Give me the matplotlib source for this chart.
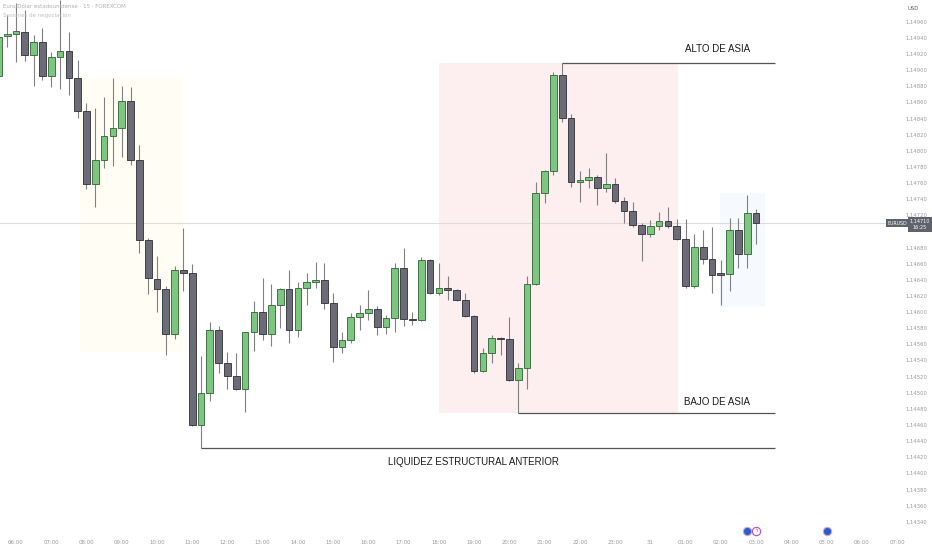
import numpy as np
import matplotlib
matplotlib.use('Agg')
import matplotlib.pyplot as plt
from matplotlib.patches import Rectangle
from matplotlib.transforms import blended_transform_factory

# EUR/USD 15m candles, first one is two bars before 06:00
opens = [1.14892, 1.14942, 1.14945, 1.14947, 1.14918, 1.14935, 1.14892, 1.14916, 1.14923, 1.14890,
         1.14849, 1.14759, 1.14788, 1.14818, 1.14828, 1.14861, 1.14788, 1.14689, 1.14641, 1.14628,
         1.14572, 1.14652, 1.14648, 1.14460, 1.14500, 1.14577, 1.14537, 1.14520, 1.14504, 1.14575,
         1.14600, 1.14572, 1.14608, 1.14628, 1.14577, 1.14630, 1.14637, 1.14639, 1.14611, 1.14557,
         1.14565, 1.14594, 1.14598, 1.14603, 1.14581, 1.14592, 1.14655, 1.14591, 1.14590, 1.14664,
         1.14624, 1.14629, 1.14627, 1.14615, 1.14595, 1.14527, 1.14549, 1.14568, 1.14566, 1.14516,
         1.14531, 1.14634, 1.14748, 1.14775, 1.14894, 1.14840, 1.14761, 1.14764, 1.14767, 1.14754,
         1.14759, 1.14738, 1.14725, 1.14708, 1.14697, 1.14706, 1.14713, 1.14707, 1.14690, 1.14632,
         1.14680, 1.14665, 1.14648, 1.14647, 1.14701, 1.14672, 1.14722]
highs = [1.14946, 1.14968, 1.14983, 1.14974, 1.14943, 1.14952, 1.14922, 1.14987, 1.14947, 1.14912,
         1.14859, 1.14853, 1.14866, 1.14890, 1.14880, 1.14879, 1.14807, 1.14692, 1.14669, 1.14632,
         1.14657, 1.14704, 1.14659, 1.14545, 1.14587, 1.14582, 1.14550, 1.14549, 1.14575, 1.14614,
         1.14642, 1.14634, 1.14629, 1.14652, 1.14637, 1.14648, 1.14662, 1.14660, 1.14623, 1.14575,
         1.14598, 1.14608, 1.14627, 1.14607, 1.14596, 1.14660, 1.14679, 1.14600, 1.14668, 1.14665,
         1.14660, 1.14644, 1.14628, 1.14623, 1.14596, 1.14555, 1.14571, 1.14569, 1.14594, 1.14536,
         1.14644, 1.14761, 1.14776, 1.14897, 1.14909, 1.14845, 1.14775, 1.14779, 1.14770, 1.14797,
         1.14766, 1.14742, 1.14736, 1.14710, 1.14714, 1.14724, 1.14730, 1.14715, 1.14715, 1.14696,
         1.14701, 1.14705, 1.14664, 1.14716, 1.14716, 1.14745, 1.14727]
lows = [1.14887, 1.14928, 1.14910, 1.14911, 1.14880, 1.14888, 1.14879, 1.14876, 1.14869, 1.14840,
        1.14752, 1.14730, 1.14779, 1.14781, 1.14792, 1.14782, 1.14673, 1.14622, 1.14600, 1.14547,
        1.14566, 1.14626, 1.14459, 1.14431, 1.14489, 1.14524, 1.14504, 1.14503, 1.14476, 1.14551,
        1.14565, 1.14558, 1.14580, 1.14562, 1.14569, 1.14608, 1.14629, 1.14603, 1.14538, 1.14549,
        1.14561, 1.14578, 1.14590, 1.14571, 1.14572, 1.14575, 1.14582, 1.14584, 1.14589, 1.14622,
        1.14621, 1.14615, 1.14614, 1.14594, 1.14524, 1.14526, 1.14537, 1.14547, 1.14514, 1.14474,
        1.14504, 1.14633, 1.14735, 1.14770, 1.14835, 1.14755, 1.14736, 1.14754, 1.14732, 1.14749,
        1.14735, 1.14710, 1.14705, 1.14663, 1.14693, 1.14701, 1.14704, 1.14689, 1.14630, 1.14629,
        1.14659, 1.14624, 1.14608, 1.14626, 1.14655, 1.14655, 1.14684]
closes = [1.14941, 1.14944, 1.14948, 1.14918, 1.14935, 1.14892, 1.14916, 1.14923, 1.14890, 1.14849,
          1.14759, 1.14788, 1.14818, 1.14828, 1.14861, 1.14788, 1.14689, 1.14642, 1.14628, 1.14572,
          1.14652, 1.14648, 1.14460, 1.14500, 1.14577, 1.14537, 1.14520, 1.14504, 1.14575, 1.14600,
          1.14572, 1.14608, 1.14628, 1.14577, 1.14630, 1.14637, 1.14639, 1.14611, 1.14557, 1.14565,
          1.14594, 1.14598, 1.14603, 1.14581, 1.14592, 1.14655, 1.14591, 1.14590, 1.14664, 1.14624,
          1.14630, 1.14627, 1.14615, 1.14595, 1.14527, 1.14549, 1.14568, 1.14566, 1.14516, 1.14531,
          1.14634, 1.14748, 1.14775, 1.14894, 1.14840, 1.14761, 1.14764, 1.14767, 1.14754, 1.14759,
          1.14738, 1.14725, 1.14708, 1.14697, 1.14706, 1.14713, 1.14707, 1.14690, 1.14632, 1.14680,
          1.14665, 1.14646, 1.14646, 1.14701, 1.14672, 1.14722, 1.14710]
FIRST_BAR = -2  # bar index relative to 06:00

time_ticks = [0, 4, 8, 12, 16, 20, 24, 28, 32, 36, 40, 44, 48, 52, 56, 60, 64, 68, 72, 76, 80, 84, 88, 92, 96, 100]
time_labels = ['06:00', '07:00', '08:00', '09:00', '10:00', '11:00', '12:00', '13:00', '14:00', '15:00',
               '16:00', '17:00', '18:00', '19:00', '20:00', '21:00', '22:00', '23:00', '31', '01:00',
               '02:00', '03:00', '04:00', '05:00', '06:00', '07:00']
price_ticks = [1.14960, 1.14940, 1.14920, 1.14900, 1.14880, 1.14860, 1.14840, 1.14820, 1.14800, 1.14780,
               1.14760, 1.14740, 1.14720, 1.14680, 1.14660, 1.14640, 1.14620, 1.14600, 1.14580, 1.14560,
               1.14540, 1.14520, 1.14500, 1.14480, 1.14460, 1.14440, 1.14420, 1.14400, 1.14380, 1.14360,
               1.14340]

last_price = 1.14710
asia_start, asia_end = 48, 75.15
asia_high_bar, asia_high = 62, 1.14909
asia_low_bar, asia_low = 57, 1.14474
liq_bar, liq_low = 21, 1.14431
london_box = (7.3, 19.0, 1.14550, 1.14890)   # x0, x1, y0, y1
blue_box = (79.9, 85.0, 1.14606, 1.14747)
event_bars = [83, 84, 92]

GREEN, GREEN_EDGE = '#7cc680', '#2f6135'
GREY, GREY_EDGE = '#6c6c78', '#2e2e34'

fig = plt.figure(figsize=(9.32, 5.5), dpi=100)
ax = fig.add_axes([0, 22 / 550, 1, 528 / 550])
ax.set_xlim(-1.816, 103.97)
ax.set_ylim(1.143320, 1.149867)
for s in ax.spines.values():
    s.set_visible(False)

# session boxes
ax.add_patch(Rectangle((london_box[0], london_box[2]), london_box[1] - london_box[0],
                       london_box[3] - london_box[2], fc='#fffdf4', ec='none', zorder=0))
ax.add_patch(Rectangle((asia_start, asia_low), asia_end - asia_start, asia_high - asia_low,
                       fc='#fdeff0', ec='none', zorder=0))
ax.add_patch(Rectangle((blue_box[0], blue_box[2]), blue_box[1] - blue_box[0],
                       blue_box[3] - blue_box[2], fc='#f6f9fe', ec='none', zorder=0))

# last price line
ax.hlines(last_price, -2, 98.6, color='#dcdcdc', lw=0.8, zorder=1)

# candles
o = np.array(opens); h = np.array(highs); l = np.array(lows); c = np.array(closes)
x = np.arange(len(o)) + FIRST_BAR
up = c >= o
ax.vlines(x, l, h, color='#808080', lw=0.8, zorder=2)
body_bot = np.minimum(o, c)
body_h = np.maximum(np.abs(c - o), 0.000012)
ax.bar(x[up], body_h[up], bottom=body_bot[up], width=0.76, color=GREEN,
       edgecolor=GREEN_EDGE, linewidth=0.6, zorder=3)
ax.bar(x[~up], body_h[~up], bottom=body_bot[~up], width=0.76, color=GREY,
       edgecolor=GREY_EDGE, linewidth=0.6, zorder=3)

# liquidity lines
line_end = 86.1
lab_font = ['Liberation Sans Narrow', 'Liberation Sans', 'DejaVu Sans']
ax.hlines([asia_high, asia_low, liq_low], [asia_high_bar, asia_low_bar, liq_bar], line_end,
          color='#555555', lw=0.9, zorder=4)
ax.text(79.6, asia_high + 0.00017, 'ALTO DE ASIA', ha='center', va='center',
        fontsize=7, family=lab_font, color='#1a1a1a')
ax.text(79.6, asia_low + 0.00014, 'BAJO DE ASIA', ha='center', va='center',
        fontsize=7, family=lab_font, color='#1a1a1a')
ax.text(51.9, liq_low - 0.00017, 'LIQUIDEZ ESTRUCTURAL ANTERIOR', ha='center', va='center',
        fontsize=7, family=lab_font, color='#1a1a1a')

# axes ticks
ax.set_xticks(time_ticks)
ax.set_xticklabels(time_labels)
ax.tick_params(axis='x', length=0, pad=8.6, labelsize=3.9, labelcolor='#9a9a9a')
ax.yaxis.tick_right()
ax.set_yticks(price_ticks)
ax.set_yticklabels([('%.5f' % p).replace('.', ',') for p in price_ticks])
ax.tick_params(axis='y', length=0, pad=-11.5, labelsize=3.8, labelcolor='#9a9a9a')
for t in ax.get_yticklabels():
    t.set_ha('center')

# price label boxes
ax.text(100.0, last_price, 'EURUSD', ha='center', va='center', fontsize=3.4, color='white',
        zorder=6, bbox=dict(boxstyle='square,pad=0.35', fc='#5f616b', ec='none'))
ax.text(102.6, last_price - 0.00002, '1,14710\n16:25', ha='center', va='center', fontsize=3.6,
        color='white', linespacing=1.3, zorder=6,
        bbox=dict(boxstyle='square,pad=0.35', fc='#5f616b', ec='none'))

# header texts
fig.text(3 / 932, 1 - 7 / 550, 'Euro/Dólar estadounidense · 15 · FOREXCOM', fontsize=4,
         color='#b0b0b0', va='center')
fig.text(3 / 932, 1 - 15 / 550, 'Sesiones de negociación', fontsize=4, color='#c0c0c0', va='center')
fig.text(913 / 932, 1 - 8 / 550, 'USD', fontsize=3.8, color='#555555', ha='center', va='center')

# calendar event icons under the chart
trans = blended_transform_factory(ax.transData, ax.transAxes)
ev_y = -3 / 528
ax.plot([event_bars[0], event_bars[2]], [ev_y, ev_y], 'o', ms=6, mfc='#2b5bd0', mec='#e7a6bf',
        mew=0.8, transform=trans, clip_on=False, zorder=7)
ax.plot([event_bars[1]], [ev_y], 'o', ms=6, mfc='white', mec='#b150c4', mew=0.8,
        transform=trans, clip_on=False, zorder=7)
ax.text(event_bars[1], ev_y, 'ϟ', transform=trans, ha='center', va='center', fontsize=4,
        color='#b150c4', clip_on=False, zorder=8)

fig.savefig('out.png', dpi=100, facecolor='white')
